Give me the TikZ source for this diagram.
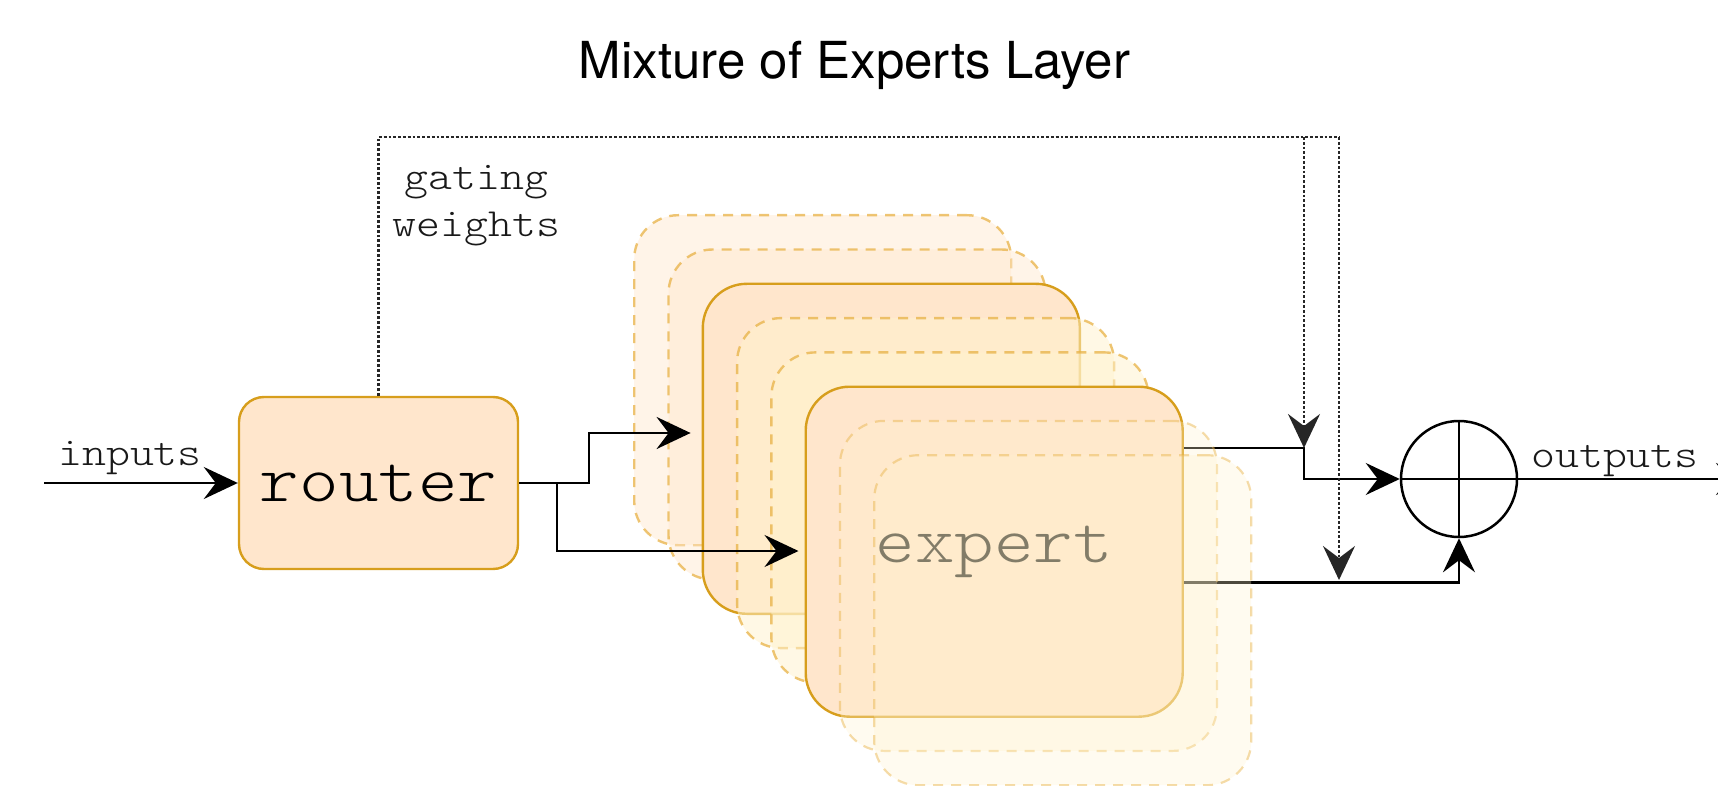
\documentclass[tikz,border=0pt]{standalone}
\usepackage{fontspec}
\setmainfont{TeX Gyre Heros}
\newfontfamily\codefont{lmmonolt10-regular.otf}[FakeStretch=1.14]
\usetikzlibrary{arrows.meta,calc}
\definecolor{boxfill}{HTML}{FFE6CC}
\definecolor{boxline}{RGB}{215,158,28}
\definecolor{ghostfill}{HTML}{FFF2CC}
\definecolor{ghostline}{RGB}{232,178,70}
\begin{document}
\begin{tikzpicture}[x=0.5pt, y=-0.5pt,
  tip/.style={-{Stealth[length=17pt,width=16pt,inset=6pt]}},
  wire/.style={line width=1.35pt, black},
  gate/.style={line width=1.2pt, black!85, dash pattern=on 1.4pt off 1pt},
  lbl/.style={font=\codefont\fontsize{20}{24}\selectfont, text=black!90, inner sep=0pt},
  expertshape/.style={rounded corners=22pt, minimum width=188.5pt, minimum height=165pt,
    inner sep=0pt, anchor=north west},
  solidbox/.style={expertshape, draw=boxline, fill=boxfill, line width=1.2pt},
  backghost/.style={expertshape, draw=ghostline, line width=1.2pt,
    dash pattern=on 5pt off 4pt, fill=boxfill, fill opacity=0.45, draw opacity=0.75},
  frontghost/.style={expertshape, draw=ghostline, line width=1.2pt,
    dash pattern=on 5pt off 4pt, fill=ghostfill, fill opacity=0.5, draw opacity=0.75},
  topghost/.style={expertshape, draw=ghostline, line width=1.1pt,
    dash pattern=on 5pt off 4pt, fill=ghostfill, fill opacity=0.3, draw opacity=0.45},
  routerbox/.style={draw=boxline, fill=boxfill, line width=1.2pt, rounded corners=12.5pt,
    minimum width=139.5pt, minimum height=86pt, inner sep=0pt,
    font=\codefont\fontsize{33}{36}\selectfont},
  sumnode/.style={circle, draw=black, line width=1.25pt, minimum size=58pt, inner sep=0pt}
]
\useasboundingbox (0,0) rectangle (1718,786);
\clip (0,0) rectangle (1718,786);

% title
\node[anchor=base, font=\fontsize{25.5}{30}\selectfont] (title) at (854.5,79) {Mixture of Experts Layer};

% router
\node[routerbox] (router) at (378.5,483) {router};

% stack of experts, back to front
\node[backghost] (e1) at (633,214) {};
\node[backghost] (e2) at (667.3,248.3) {};
\node[solidbox] (e3) at (701.6,282.6) {};
\node[frontghost] (e4) at (735.9,316.9) {};
\node[frontghost] (e5) at (770.2,351.2) {};
\node[solidbox, font=\codefont\fontsize{33}{36}\selectfont] (e6) at (804.5,385.5) {expert};

% combining node
\node[sumnode] (sum) at (1459,479) {};
\draw[line width=1.25pt] (sum.north) -- (sum.south) (sum.west) -- (sum.east);

% inputs
\coordinate (inStart) at (44,483);
\draw[wire,tip] (inStart) -- (router.west);
\node[lbl, anchor=base] (inlbl) at (130,465) {inputs};

% router to experts
\coordinate (fork) at (557,483);
\coordinate (step) at (589,433);
\draw[wire,tip,shorten >=5.5pt] (router.east) -- (step |- router.east) -- (step) -- (e3.west |- step);
\draw[wire,tip,shorten >=3pt] (fork) |- (e6.west |- 0,551);

% gating weights
\coordinate (gA) at (1304,137);
\coordinate (gB) at (1339,137);
\draw[gate] (router.north) |- (gB);
\node[lbl, anchor=base] (gtxt1) at (476.5,190) {gating};
\node[lbl, anchor=base] (gtxt2) at (476.5,237) {weights};

% expert outputs to the sum
\draw[wire,tip] ($(e6.north east)+(0,62.5)$) -| (gA |- sum.west) -- (sum.west);
\draw[wire,tip] ($(e6.south east)+(0,-135.5)$) -| (sum.south);
\draw[gate,tip] (gA) -- (gA |- 0,448);
\draw[gate,tip] (gB) -- (gB |- 0,580);

% outputs
\coordinate (outEnd) at (1750,479);
\draw[wire,tip] (sum.east) -- (outEnd);
\node[lbl, anchor=base] (outlbl) at (1615,467) {outputs};

% front copies of the expert
\node[topghost] (e7) at (838.8,419.8) {};
\node[topghost] (e8) at (873.1,454.1) {};
\end{tikzpicture}
\end{document}
